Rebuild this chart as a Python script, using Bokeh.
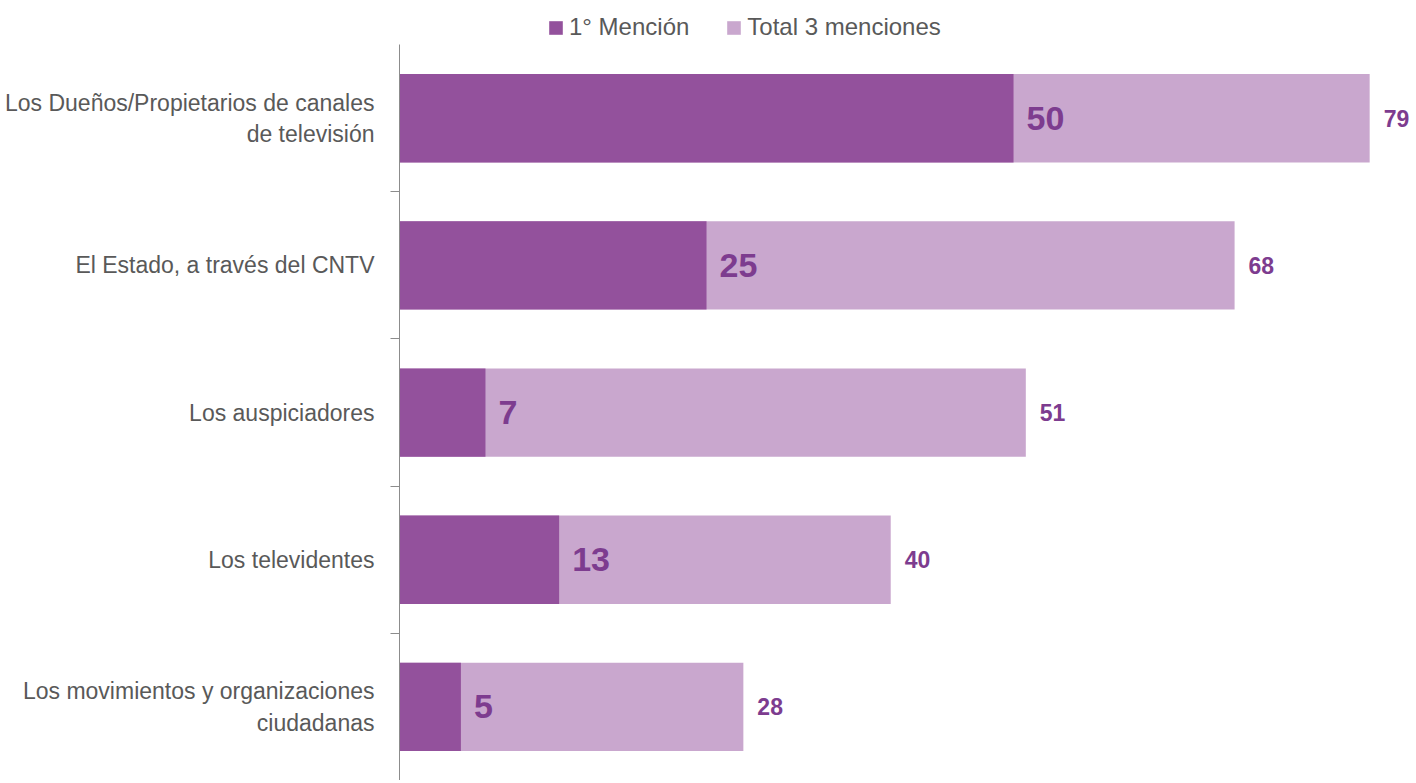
from bokeh.plotting import figure
from bokeh.models import (ColumnDataSource, Range1d, LinearAxis, FixedTicker,
                          LabelSet, Legend, LegendItem)
from bokeh.core.properties import value
from bokeh.embed import file_html
from bokeh.resources import INLINE

categories = [
    "Los Dueños/Propietarios de canales\nde televisión",
    "El Estado, a través del CNTV",
    "Los auspiciadores",
    "Los televidentes",
    "Los movimientos y organizaciones\nciudadanas",
]
primera = [50, 25, 7, 13, 5]
total = [79, 68, 51, 40, 28]
series_names = ["1° Mención", "Total 3 menciones"]

FONT = "Liberation Sans"
DARK = "#93519C"
LIGHT = "#C9A7CE"
NUM = "#7D3C8F"
GRAY = "#595959"

n = len(categories)
ypos = [n - i - 0.5 for i in range(n)]          # category band centres, top to bottom
bounds = [float(k) for k in range(1, n)]         # band boundaries (tick marks)

src = ColumnDataSource(dict(
    y=ypos,
    first=primera,
    total=total,
    first_txt=[str(v) for v in primera],
    total_txt=[str(v) for v in total],
))

p = figure(width=1414, height=780,
           y_range=Range1d(0, n + 0.3),
           x_range=Range1d(0, 82.65),
           output_backend="svg", toolbar_location=None,
           x_axis_location=None, y_axis_location=None,
           min_border_left=399, min_border_right=0,
           min_border_top=0, min_border_bottom=0,
           outline_line_color=None)
p.xgrid.visible = False
p.ygrid.visible = False

tick_axis = LinearAxis(ticker=FixedTicker(ticks=bounds), bounds=(0, n),
                       major_tick_out=9, major_tick_in=0, minor_tick_out=0, minor_tick_in=0,
                       major_label_text_font_size="0px", major_label_standoff=0,
                       major_label_overrides={b: "" for b in bounds},
                       axis_line_color="#8C8C8C", major_tick_line_color="#8C8C8C")
p.add_layout(tick_axis, "left")

label_axis = LinearAxis(ticker=FixedTicker(ticks=ypos),
                        major_label_overrides=dict(zip(ypos, categories)),
                        major_tick_out=0, major_tick_in=0, minor_tick_out=0, minor_tick_in=0,
                        axis_line_color=None, major_tick_line_color=None,
                        major_label_standoff=16,
                        major_label_text_font=FONT,
                        major_label_text_font_size="23px",
                        major_label_text_color=GRAY)
p.add_layout(label_axis, "left")

r_total = p.hbar(y="y", left=0, right="total", height=0.6, source=src,
                 fill_color=LIGHT, line_color=None)
r_first = p.hbar(y="y", left=0, right="first", height=0.6, source=src,
                 fill_color=DARK, line_color=None)

p.add_layout(LabelSet(x="first", y="y", text="first_txt", source=src,
                      x_offset=13, text_align="left", text_baseline="middle",
                      text_font=value(FONT), text_font_style="bold",
                      text_font_size="34px", text_color=NUM))
p.add_layout(LabelSet(x="total", y="y", text="total_txt", source=src,
                      x_offset=14, text_align="left", text_baseline="middle",
                      text_font=value(FONT), text_font_style="bold",
                      text_font_size="23px", text_color=NUM))

legend = Legend(items=[LegendItem(label=series_names[0], renderers=[r_first]),
                       LegendItem(label=series_names[1], renderers=[r_total])],
                orientation="horizontal", location=(148, 739),
                glyph_width=17, glyph_height=17, label_standoff=5, spacing=36,
                padding=2, margin=0, border_line_color=None,
                background_fill_alpha=0,
                label_text_font=FONT, label_text_font_size="24px",
                label_text_color=GRAY)
p.add_layout(legend, "center")

open("out.html", "w").write(file_html(p, INLINE))
